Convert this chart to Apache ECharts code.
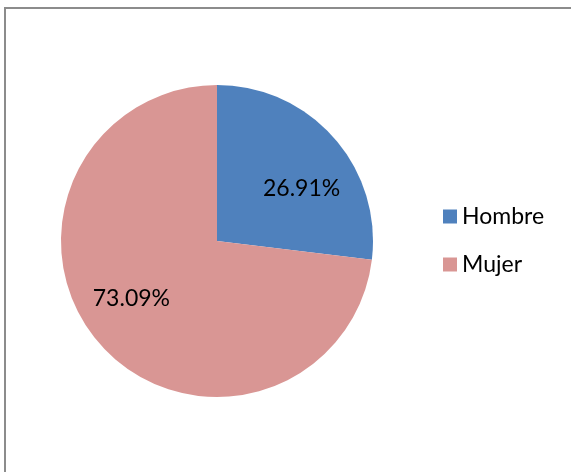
<!DOCTYPE html>
<html>
<head>
<meta charset="utf-8">
<script src="https://cdn.jsdelivr.net/npm/echarts@6/dist/echarts.min.js"></script>
<style>
  html, body { margin: 0; padding: 0; background: #fff; }
  #chart { width: 571px; height: 472px; }
</style>
</head>
<body>
<div id="chart"></div>
<script>
// Distribución por sexo
const categories = ['Hombre', 'Mujer'];
const shares = [26.91, 73.09];
const palette = ['#4F81BD', '#D99694'];

const fontFamily = 'Lato, Carlito, "Liberation Sans", sans-serif';

const chart = echarts.init(document.getElementById('chart'), null, { renderer: 'canvas' });

chart.setOption({
  backgroundColor: '#ffffff',
  animation: false,
  color: palette,
  graphic: [{
    type: 'rect',
    silent: true,
    shape: { x: 5, y: 8, width: 700, height: 600 },
    style: { fill: 'none', stroke: '#8c8c8c', lineWidth: 2 }
  }],
  legend: {
    orient: 'vertical',
    left: 443,
    top: 205,
    padding: 0,
    itemWidth: 14,
    itemHeight: 14,
    itemGap: 25,
    icon: 'rect',
    textStyle: { fontFamily: fontFamily, fontSize: 23, lineHeight: 23, color: '#000' },
    data: categories
  },
  series: [{
    type: 'pie',
    center: [217, 241],
    radius: [0, 156],
    startAngle: 90,
    clockwise: true,
    silent: true,
    label: {
      show: true,
      position: 'inside',
      fontFamily: fontFamily,
      fontSize: 23,
      color: '#000',
      formatter: p => p.value.toFixed(2) + '%'
    },
    labelLayout: p => p.dataIndex === 0 ? { dx: 24, dy: 1 } : { dx: -25, dy: 4 },
    labelLine: { show: false },
    itemStyle: { borderWidth: 0 },
    data: categories.map((name, i) => ({ name: name, value: shares[i] }))
  }]
});
</script>
</body>
</html>
